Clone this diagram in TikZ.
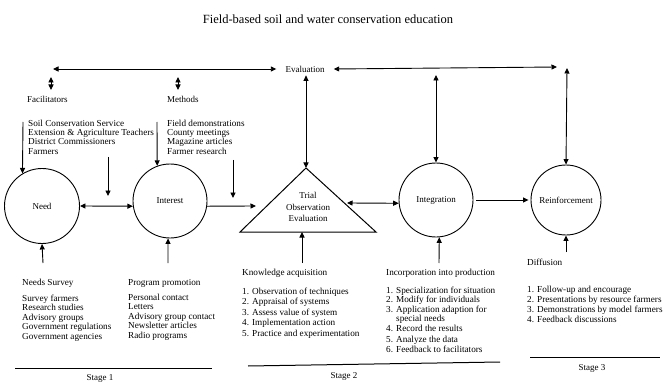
\documentclass[tikz,border=0pt]{standalone}
\usepackage{fontspec}
\setmainfont{Liberation Serif}
\usetikzlibrary{arrows.meta}
\tikzset{
  hd/.tip={Triangle[length=5.5pt,width=5pt]},
  conn/.style={line width=0.9pt,-hd},
  dbl/.style={line width=0.9pt,hd-hd},
  circ/.style={draw,circle,line width=0.9pt,inner sep=0pt,font=\fontsize{9}{10}\selectfont},
  lbl/.style={anchor=base west,inner sep=0pt,font=\fontsize{9}{10}\selectfont},
  item/.style={anchor=base west,inner sep=0pt,font=\fontsize{9.2}{10}\selectfont},
  stagelbl/.style={anchor=base,inner sep=0pt,font=\fontsize{9}{10}\selectfont},
  stagerule/.style={line width=1pt},
  titlestyle/.style={inner sep=0pt,font=\fontsize{12.5}{14}\selectfont}
}
\begin{document}
\begin{tikzpicture}[x=1pt,y=-1pt]
\useasboundingbox (0,0) rectangle (671,382);

% title
\node[titlestyle] (title) at (328,19) {Field-based soil and water conservation education};

% evaluation bar
\node[font=\fontsize{9}{10}\selectfont,inner xsep=9pt,inner ysep=3pt] (eval) at (305,69) {Evaluation};
\coordinate (tlL) at (53,69);
\coordinate (trR) at (557,67);
\draw[dbl] (tlL) -- (eval.west);
\draw[dbl] (eval.east) -- (trR);

% facilitators / methods labels
\node[lbl] (fac) at (27,103) {Facilitators};
\node[lbl] (meth) at (167,103) {Methods};
\coordinate (facA) at (51,77); \coordinate (facB) at (51,90);
\coordinate (metA) at (178,77); \coordinate (metB) at (178,90);
\draw[dbl] (facA) -- (facB);
\draw[dbl] (metA) -- (metB);

% lists on top
\foreach \t [count=\i] in {Soil Conservation Service,Extension \& Agriculture Teachers,District Commissioners,Farmers}
  \node[item] (f\i) at (28,127+9*\i-9) {\t};
\foreach \t [count=\i] in {Field demonstrations,County meetings,Magazine articles,Farmer research}
  \node[item] (m\i) at (167,127+9*\i-9) {\t};

% main nodes
\node[circ,minimum size=75pt] (need) at (42,206) {Need};
\node[circ,minimum size=74pt] (interest) at (170,201) {Interest};
\node[circ,minimum size=74pt] (integ) at (436,200) {Integration};
\node[circ,minimum size=70pt] (reinf) at (566,200) {Reinforcement};

\coordinate (apex) at (306,168);
\coordinate (bl) at (240,232);
\coordinate (br) at (376,232);
\draw[line width=1pt,line join=miter] (apex) -- (br) -- (bl) -- cycle;
\node[align=center,inner sep=0pt,font=\fontsize{9}{11.5}\selectfont] (tri) at (308,207) {Trial\\Observation\\Evaluation};

% verticals from evaluation bar
\draw[dbl] (eval.south -| apex) -- (apex);
\coordinate (intTop) at (436,75);
\coordinate (reTop) at (567,68);
\draw[dbl] (intTop) -- (integ.north);
\draw[dbl] (reTop) -- (reinf.north);

% facilitator / method feeders
\coordinate (facTop) at (23,122);
\coordinate (metTop) at (157,122);
\draw[conn] (facTop) -- (need.121);
\draw[conn] (metTop) -- (interest.110);
\coordinate (dcA) at (108,157); \coordinate (dcB) at (108,196);
\coordinate (frA) at (233,160); \coordinate (frB) at (233,198);
\draw[conn] (dcA) -- (dcB);
\draw[conn] (frA) -- (frB);

% horizontal flow
\draw[dbl] (need.east) -- (interest.188);
\coordinate (triL) at (256,206);
\draw[conn] (interest.-8) -- (triL);
\coordinate (triR) at (347,203);
\draw[dbl] (triR) -- (integ.185);
\draw[conn,shorten <=3pt,shorten >=2pt] (integ.east) -- (reinf.west);

% bottom feeders
\coordinate (nb) at (43,263);
\coordinate (ib) at (168,263);
\coordinate (tb) at (302,263);
\coordinate (tbase) at (302,232);
\coordinate (gb) at (439,263);
\coordinate (rb) at (566,252);
\draw[conn] (nb) -- (need.south);
\draw[conn] (ib) -- (interest.-93);
\draw[conn] (tb) -- (tbase);
\draw[conn] (gb) -- (integ.-85);
\draw[conn] (rb) -- (reinf.south);

% bottom headers
\node[item] (h1) at (22,285) {Needs Survey};
\node[item] (h2) at (128,285) {Program promotion};
\node[item] (h3) at (242,275) {Knowledge acquisition};
\node[item] (h4) at (386,275) {Incorporation into production};
\node[item] (h5) at (527,265) {Diffusion};

% bottom lists
\foreach \t [count=\i] in {Survey farmers,Research studies,Advisory groups,Government regulations,Government agencies}
  \node[item] (a\i) at (22,301+9.5*\i-9.5) {\t};
\foreach \t [count=\i] in {Personal contact,Letters,Advisory group contact,Newsletter articles,Radio programs}
  \node[item] (b\i) at (128,300+9.5*\i-9.5) {\t};
\foreach \t [count=\i] in {1. Observation of techniques,2. Appraisal of systems,3. Assess value of system,4. Implementation action,5. Practice and experimentation}
  \node[item] (c\i) at (242,294+10.5*\i-10.5) {\t};
\node[item] (d1) at (386,293) {1. Specialization for situation};
\node[item] (d2) at (386,302.5) {2. Modify for individuals};
\node[item] (d3) at (386,312) {3. Application adaption for};
\node[item] (d3b) at (396,321.5) {special needs};
\node[item] (d4) at (386,331.5) {4. Record the results};
\node[item] (d5) at (386,342) {5. Analyze the data};
\node[item] (d6) at (386,352.5) {6. Feedback to facilitators};
\foreach \t [count=\i] in {1. Follow-up and encourage,2. Presentations by resource farmers,3. Demonstrations by model farmers,4. Feedback discussions}
  \node[item] (e\i) at (527,292+10*\i-10) {\t};

% stage rules
\coordinate (s1a) at (15,368); \coordinate (s1b) at (212,368);
\coordinate (s2a) at (248,366); \coordinate (s2b) at (500,362);
\coordinate (s3a) at (530,357); \coordinate (s3b) at (660,357);
\draw[stagerule] (s1a) -- (s1b);
\draw[stagerule] (s2a) -- (s2b);
\draw[stagerule] (s3a) -- (s3b);
\node[stagelbl] (st1) at (100,380) {Stage 1};
\node[stagelbl] (st2) at (344,378) {Stage 2};
\node[stagelbl] (st3) at (592,370) {Stage 3};
\end{tikzpicture}
\end{document}
